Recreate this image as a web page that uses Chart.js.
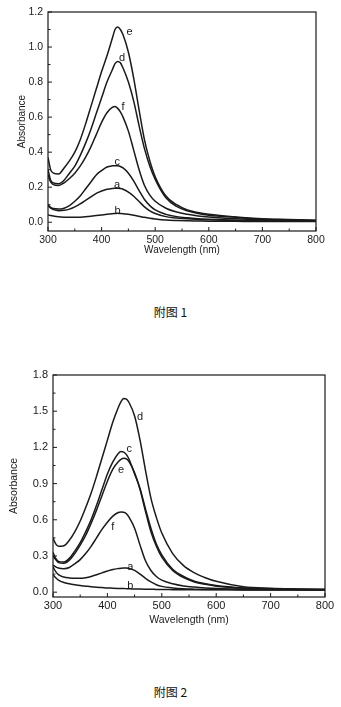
<!DOCTYPE html>
<html>
<head>
<meta charset="utf-8">
<script src="https://cdn.jsdelivr.net/npm/chart.js@4.4.1/dist/chart.umd.min.js"></script>
<style>
    body { margin: 0; background: #fff; width: 341px; height: 707px; position: relative; overflow: hidden; }
    canvas { position: absolute; left: 0; }
    #chart1 { top: 0; }
    #chart2 { top: 360px; }
    .caption { position: absolute; left: 0; width: 341px; text-align: center; font: 12px "Noto Sans CJK SC", sans-serif; color: #111; }
</style>
</head>
<body>
<canvas id="chart1" width="341" height="262"></canvas>
<div class="caption" style="top: 303px;">附图 1</div>
<canvas id="chart2" width="341" height="272"></canvas>
<div class="caption" style="top: 683px;">附图 2</div>

<script>
// Wavelength grid shared by every curve (nm)
const wavelengths = [300, 305, 310, 320, 330, 340, 350, 360, 370, 380, 390, 400, 410, 420, 425, 430, 435, 440,
    450, 460, 470, 480, 490, 500, 520, 540, 560, 580, 600, 650, 700, 750, 800];

// Figure 1 absorbance curves
const fig1A = [0.095, 0.08, 0.072, 0.066, 0.068, 0.075, 0.088, 0.105, 0.125, 0.145, 0.165, 0.178, 0.188, 0.193, 0.194, 0.194, 0.192, 0.188,
    0.172, 0.148, 0.118, 0.088, 0.065, 0.05, 0.032, 0.024, 0.02, 0.016, 0.014, 0.01, 0.008, 0.007, 0.006];
const fig1B = [0.042, 0.038, 0.035, 0.031, 0.029, 0.028, 0.028, 0.029, 0.031, 0.034, 0.038, 0.042, 0.046, 0.049, 0.05, 0.051, 0.05, 0.049,
    0.045, 0.04, 0.034, 0.028, 0.023, 0.019, 0.013, 0.01, 0.008, 0.007, 0.006, 0.005, 0.004, 0.004, 0.004];
const fig1C = [0.10, 0.085, 0.078, 0.075, 0.08, 0.095, 0.12, 0.15, 0.19, 0.23, 0.27, 0.295, 0.315, 0.322, 0.323, 0.322, 0.318, 0.31,
    0.28, 0.235, 0.18, 0.13, 0.095, 0.07, 0.045, 0.032, 0.025, 0.02, 0.017, 0.012, 0.01, 0.008, 0.007];
const fig1D = [0.30, 0.24, 0.225, 0.22, 0.24, 0.28, 0.32, 0.38, 0.45, 0.53, 0.62, 0.71, 0.80, 0.87, 0.905, 0.918, 0.91, 0.88,
    0.80, 0.69, 0.55, 0.42, 0.32, 0.245, 0.14, 0.09, 0.065, 0.05, 0.04, 0.028, 0.018, 0.014, 0.01];
const fig1E = [0.37, 0.30, 0.28, 0.275, 0.31, 0.35, 0.40, 0.47, 0.56, 0.66, 0.76, 0.86, 0.95, 1.05, 1.10, 1.114, 1.10, 1.07,
    0.97, 0.82, 0.64, 0.47, 0.35, 0.26, 0.15, 0.10, 0.07, 0.055, 0.045, 0.03, 0.02, 0.015, 0.012];
const fig1F = [0.27, 0.23, 0.215, 0.21, 0.225, 0.25, 0.28, 0.32, 0.37, 0.43, 0.50, 0.57, 0.625, 0.655, 0.66, 0.65, 0.63, 0.60,
    0.52, 0.41, 0.30, 0.21, 0.155, 0.12, 0.08, 0.058, 0.045, 0.036, 0.03, 0.02, 0.014, 0.011, 0.008];

// Figure 2 absorbance curves
const fig2A = [0.21, 0.17, 0.145, 0.125, 0.118, 0.115, 0.115, 0.12, 0.13, 0.145, 0.16, 0.175, 0.188, 0.196, 0.199, 0.2, 0.2, 0.197,
    0.18, 0.15, 0.115, 0.085, 0.062, 0.048, 0.035, 0.028, 0.025, 0.023, 0.022, 0.02, 0.02, 0.02, 0.02];
const fig2B = [0.145, 0.12, 0.10, 0.08, 0.07, 0.062, 0.055, 0.05, 0.045, 0.041, 0.038, 0.035, 0.033, 0.031, 0.03, 0.03, 0.029, 0.028,
    0.027, 0.026, 0.025, 0.024, 0.023, 0.022, 0.021, 0.02, 0.02, 0.02, 0.02, 0.019, 0.019, 0.019, 0.019];
const fig2C = [0.33, 0.28, 0.255, 0.25, 0.28, 0.34, 0.41, 0.50, 0.60, 0.72, 0.85, 0.98, 1.08, 1.15, 1.165, 1.16, 1.14, 1.10,
    0.98, 0.86, 0.69, 0.53, 0.40, 0.31, 0.19, 0.13, 0.09, 0.07, 0.055, 0.035, 0.027, 0.024, 0.022];
const fig2D = [0.45, 0.40, 0.38, 0.385, 0.43, 0.50, 0.59, 0.70, 0.82, 0.96, 1.11, 1.26, 1.41, 1.53, 1.58, 1.605, 1.60, 1.57,
    1.46, 1.26, 1.01, 0.78, 0.62, 0.49, 0.32, 0.22, 0.16, 0.12, 0.09, 0.045, 0.032, 0.027, 0.024];
const fig2E = [0.30, 0.27, 0.245, 0.24, 0.265, 0.32, 0.39, 0.47, 0.57, 0.68, 0.80, 0.92, 1.02, 1.08, 1.10, 1.11, 1.105, 1.08,
    0.99, 0.85, 0.67, 0.50, 0.38, 0.29, 0.18, 0.12, 0.085, 0.065, 0.05, 0.033, 0.026, 0.023, 0.021];
const fig2F = [0.225, 0.21, 0.20, 0.195, 0.205, 0.235, 0.27, 0.32, 0.38, 0.45, 0.52, 0.58, 0.63, 0.66, 0.665, 0.662, 0.65, 0.62,
    0.53, 0.39, 0.26, 0.18, 0.13, 0.10, 0.07, 0.052, 0.042, 0.035, 0.03, 0.025, 0.022, 0.021, 0.02];

// Axis ticks
const xTicks = [300, 400, 500, 600, 700, 800];
const xMinorTicks = [350, 450, 550, 650, 750];
const fig1YTicks = [0, 0.2, 0.4, 0.6, 0.8, 1.0, 1.2];
const fig1YMinor = [0.1, 0.3, 0.5, 0.7, 0.9, 1.1];
const fig2YTicks = [0, 0.3, 0.6, 0.9, 1.2, 1.5, 1.8];
const fig2YMinor = [0.15, 0.45, 0.75, 1.05, 1.35, 1.65];

// Curve letters placed next to each peak (wavelength, absorbance)
const fig1Letters = ['e', 'd', 'f', 'c', 'a', 'b'];
const fig1LetterX = [452, 438, 440, 429, 429, 430];
const fig1LetterY = [1.086, 0.937, 0.657, 0.343, 0.213, 0.066];
const fig2Letters = ['d', 'c', 'e', 'f', 'a', 'b'];
const fig2LetterX = [460, 440, 425, 410, 442, 442];
const fig2LetterY = [1.45, 1.187, 1.013, 0.544, 0.212, 0.052];

const INK = '#1a1a1a';
const FONT = '"Liberation Sans", Arial, sans-serif';

// Frame, inward tick marks and curve letters
const framePlugin = {
    id: 'frame',
    afterDraw(chart, args, opts) {
        const { ctx, chartArea: area, scales: { x, y } } = chart;
        ctx.save();
        ctx.strokeStyle = INK;
        ctx.lineWidth = 1.2;
        ctx.strokeRect(area.left, area.top, area.right - area.left, area.bottom - area.top);

        ctx.beginPath();
        const tick = (px, len, horizontal) => {
            if (horizontal) {
                ctx.moveTo(px, area.bottom);
                ctx.lineTo(px, area.bottom - len);
            } else {
                ctx.moveTo(area.left, px);
                ctx.lineTo(area.left + len, px);
            }
        };
        xTicks.forEach(v => tick(x.getPixelForValue(v), 4, true));
        xMinorTicks.forEach(v => tick(x.getPixelForValue(v), 2.5, true));
        opts.yMajor.forEach(v => tick(y.getPixelForValue(v), 4, false));
        opts.yMinor.forEach(v => tick(y.getPixelForValue(v), 2.5, false));
        ctx.lineWidth = 1;
        ctx.stroke();

        ctx.fillStyle = INK;
        ctx.font = opts.letterFont;
        ctx.textAlign = 'center';
        ctx.textBaseline = 'middle';
        opts.letters.forEach((t, i) => {
            ctx.fillText(t, x.getPixelForValue(opts.letterX[i]), y.getPixelForValue(opts.letterY[i]));
        });
        ctx.restore();
    }
};

function makeSpectrumChart(canvasId, series, setup) {
    const datasets = series.map(values => ({
        data: wavelengths.map((w, i) => ({ x: w, y: values[i] })),
        borderColor: INK,
        borderWidth: 1.5,
        pointRadius: 0,
        fill: false,
        cubicInterpolationMode: 'monotone'
    }));

    return new Chart(document.getElementById(canvasId), {
        type: 'line',
        data: { datasets: datasets },
        plugins: [framePlugin],
        options: {
            responsive: false,
            animation: false,
            events: [],
            layout: { padding: setup.padding },
            plugins: {
                legend: { display: false },
                tooltip: { enabled: false },
                frame: {
                    yMajor: setup.yTicks,
                    yMinor: setup.yMinor,
                    letters: setup.letters,
                    letterX: setup.letterX,
                    letterY: setup.letterY,
                    letterFont: setup.letterFont
                }
            },
            scales: {
                x: {
                    type: 'linear',
                    min: 300,
                    max: 800,
                    grid: { display: false, drawTicks: false },
                    border: { display: false },
                    afterBuildTicks: scale => { scale.ticks = xTicks.map(v => ({ value: v })); },
                    afterFit: scale => { scale.height = setup.xHeight; },
                    ticks: {
                        color: INK,
                        padding: setup.xTickPad,
                        maxRotation: 0,
                        font: { family: FONT, size: setup.tickSize }
                    },
                    title: {
                        display: true,
                        text: 'Wavelength (nm)',
                        color: INK,
                        padding: { top: 0, bottom: setup.xTitlePad },
                        font: { family: FONT, size: setup.titleSize }
                    }
                },
                y: {
                    min: setup.yMin,
                    max: setup.yMax,
                    grid: { display: false, drawTicks: false },
                    border: { display: false },
                    afterBuildTicks: scale => { scale.ticks = setup.yTicks.map(v => ({ value: v })); },
                    afterFit: scale => { scale.width = setup.yWidth; },
                    ticks: {
                        color: INK,
                        padding: 5,
                        font: { family: FONT, size: setup.tickSize },
                        callback: v => v.toFixed(1)
                    },
                    title: {
                        display: true,
                        text: 'Absorbance',
                        color: INK,
                        padding: { top: setup.yTitlePad, bottom: 0 },
                        font: { family: FONT, size: setup.titleSize }
                    }
                }
            }
        }
    });
}

makeSpectrumChart('chart1', [fig1A, fig1B, fig1C, fig1D, fig1E, fig1F], {
    padding: { top: 12, right: 25, left: 0, bottom: 0 },
    yMin: -0.05, yMax: 1.2,
    yTicks: fig1YTicks, yMinor: fig1YMinor,
    xHeight: 31, yWidth: 48,
    xTickPad: 3, xTitlePad: 6, yTitlePad: 16,
    tickSize: 10.5, titleSize: 10,
    letters: fig1Letters, letterX: fig1LetterX, letterY: fig1LetterY,
    letterFont: '11px ' + FONT
});

makeSpectrumChart('chart2', [fig2A, fig2B, fig2C, fig2D, fig2E, fig2F], {
    padding: { top: 15, right: 16, left: 0, bottom: 0 },
    yMin: -0.04, yMax: 1.8,
    yTicks: fig2YTicks, yMinor: fig2YMinor,
    xHeight: 35, yWidth: 53,
    xTickPad: 2, xTitlePad: 6, yTitlePad: 8,
    tickSize: 11, titleSize: 10.5,
    letters: fig2Letters, letterX: fig2LetterX, letterY: fig2LetterY,
    letterFont: '11px ' + FONT
});
</script>
</body>
</html>
